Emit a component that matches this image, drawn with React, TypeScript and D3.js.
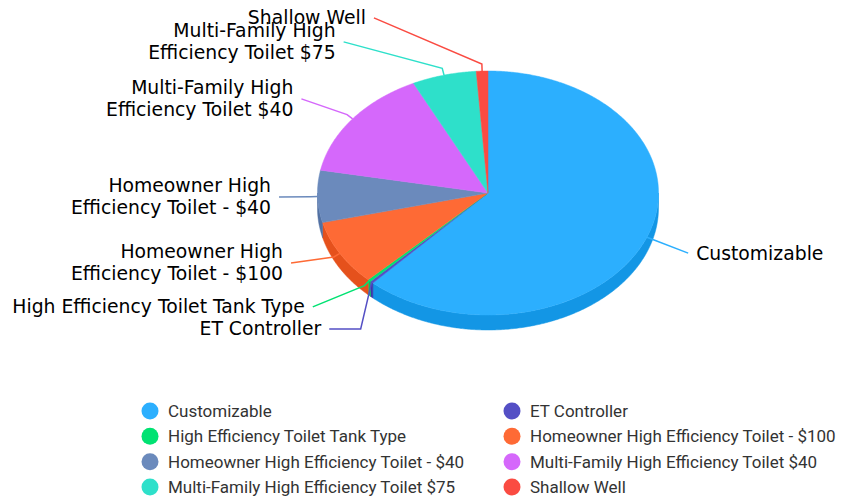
import React from "react";
import * as d3 from "d3";

// ---- data ----
const categories = [
  "Customizable",
  "ET Controller",
  "High Efficiency Toilet Tank Type",
  "Homeowner High Efficiency Toilet - $100",
  "Homeowner High Efficiency Toilet - $40",
  "Multi-Family High Efficiency Toilet $40",
  "Multi-Family High Efficiency Toilet $75",
  "Shallow Well",
];
const values = [618, 3, 3, 87, 69, 148, 61, 11];
const sliceLabels = [
  ["Customizable"],
  ["ET Controller"],
  ["High Efficiency Toilet Tank Type"],
  ["Homeowner High", "Efficiency Toilet - $100"],
  ["Homeowner High", "Efficiency Toilet - $40"],
  ["Multi-Family High", "Efficiency Toilet $40"],
  ["Multi-Family High", "Efficiency Toilet $75"],
  ["Shallow Well"],
];
const colors = [
  "#2caffe",
  "#544fc5",
  "#00e272",
  "#fe6a35",
  "#6b8abc",
  "#d568fb",
  "#2ee0ca",
  "#fa4b42",
];

// ---- layout ----
const W = 855;
const H = 502;
const CX = 488;
const CY = 193;
const RX = 170.5;
const RY = 122;
const DEPTH = 15;
const LABEL_CY = 195.5;
const LABEL_RY = 159;
const LABEL_CIRCLE = 209;
const LINE_H = 22;

function pt(a: number, rx = RX, ry = RY, dy = 0): [number, number] {
  return [CX + rx * Math.sin(a), CY - ry * Math.cos(a) + dy];
}

function arcPoints(a0: number, a1: number, dy = 0): [number, number][] {
  const n = Math.max(2, Math.ceil(((a1 - a0) * 180) / Math.PI) * 2);
  const pts: [number, number][] = [];
  for (let i = 0; i <= n; i++) pts.push(pt(a0 + ((a1 - a0) * i) / n, RX, RY, dy));
  return pts;
}

function sideColor(c: string) {
  const k = d3.rgb(c);
  return d3.rgb(Math.max(0, k.r - 25), Math.max(0, k.g - 25), Math.max(0, k.b - 25)).formatHex();
}

type L = {
  i: number;
  mid: number;
  side: number;
  ny: number;
  y: number;
  size: number;
  lines: number;
  x: number;
};

function distribute(items: L[]) {
  const groups = items.map((it) => ({ members: [it], size: it.size, pos: it.ny - it.size / 2 }));
  let changed = true;
  while (changed) {
    changed = false;
    for (let k = groups.length - 1; k > 0; k--) {
      const a = groups[k - 1];
      const b = groups[k];
      if (a.pos + a.size > b.pos) {
        const members = [...a.members, ...b.members];
        let off = 0;
        let sum = 0;
        members.forEach((m) => {
          sum += m.ny - off - m.size / 2;
          off += m.size;
        });
        groups.splice(k - 1, 2, { members, size: a.size + b.size, pos: sum / members.length });
        changed = true;
        break;
      }
    }
  }
  groups.forEach((g) => {
    let off = g.pos;
    g.members.forEach((m) => {
      m.y = off + m.size / 2;
      off += m.size;
    });
  });
}

export default function App() {
  const pie = d3.pie<number>().sort(null).startAngle(0).endAngle(Math.PI * 2);
  const arcs = pie(values);
  const line = d3.line();

  const walls = arcs
    .map((a, i) => {
      const s = Math.max(a.startAngle, Math.PI / 2);
      const e = Math.min(a.endAngle, (Math.PI * 3) / 2);
      if (e <= s) return null;
      const top = arcPoints(s, e);
      const bottom = arcPoints(s, e, DEPTH).reverse();
      const f = sideColor(colors[i]);
      return { d: line([...top, ...bottom]) + "Z", fill: f, key: i };
    })
    .filter(Boolean) as { d: string; fill: string; key: number }[];

  const tops = arcs.map((a, i) => ({
    d: line([[CX, CY], ...arcPoints(a.startAngle, a.endAngle)]) + "Z",
    fill: colors[i],
    key: i,
  }));

  // labels
  const labels: L[] = arcs.map((a, i) => {
    const mid = (a.startAngle + a.endAngle) / 2;
    const ny = LABEL_CY - LABEL_RY * Math.cos(mid);
    const lines = sliceLabels[i].length;
    return {
      i,
      mid,
      side: Math.sin(mid) >= 0 ? 1 : -1,
      ny,
      y: ny,
      lines,
      size: lines === 1 ? LINE_H : LINE_H * 3,
      x: 0,
    };
  });
  [1, -1].forEach((side) => {
    const grp = labels.filter((l) => l.side === side);
    const upper = grp.filter((l) => l.ny < LABEL_CY).sort((a, b) => b.ny - a.ny);
    const lower = grp.filter((l) => l.ny >= LABEL_CY).sort((a, b) => a.ny - b.ny);
    upper.forEach((l, k) => {
      if (k > 0) {
        const p = upper[k - 1];
        l.y = Math.min(l.ny, p.y - 8 * (p.lines + l.lines));
      }
    });
    distribute(lower);
  });
  labels.forEach((l) => {
    const dy = l.y - CY;
    const dx = Math.abs(dy) < LABEL_CIRCLE ? Math.sqrt(LABEL_CIRCLE ** 2 - dy * dy) : 0;
    l.x = CX + l.side * dx;
  });

  // legend
  const legendCols = [150, 512];
  const legendRow = d3.scalePoint<number>().domain([0, 1, 2, 3]).range([411, 487]);

  return (
    <svg
      width={W}
      height={H}
      style={{ position: "absolute", left: 0, top: 0, background: "#fff" }}
    >
      <g>
        {walls.map((w) => (
          <path key={"w" + w.key} d={w.d} fill={w.fill} stroke={w.fill} strokeWidth={0.5} />
        ))}
        {tops.map((t) => (
          <path key={"t" + t.key} d={t.d} fill={t.fill} stroke={t.fill} strokeWidth={0.5} />
        ))}
      </g>
      <g>
        {labels.map((l) => {
          const e = pt(l.mid);
          const b = pt(l.mid, RX + 7, RY + 7);
          const pushedDown = l.y - l.ny > 10;
          const pts: [number, number][] = pushedDown
            ? [[l.x, l.y], [e[0] - 11, l.y], e]
            : [[l.x, l.y], b, e];
          return (
            <polyline
              key={"k" + l.i}
              points={pts.map((p) => p.join(",")).join(" ")}
              fill="none"
              stroke={colors[l.i]}
              strokeWidth={1.5}
            />
          );
        })}
      </g>
      <g fontFamily="'DejaVu Sans', Verdana, sans-serif" fontSize={18.8} fill="#000">
        {labels.map((l) => {
          const lines = sliceLabels[l.i];
          const tx = l.x + l.side * 8;
          return lines.map((s, k) => (
            <text
              key={"l" + l.i + "_" + k}
              x={tx}
              y={l.y + (k - (lines.length - 1) / 2) * LINE_H}
              textAnchor={l.side > 0 ? "start" : "end"}
              dominantBaseline="central"
            >
              {s}
            </text>
          ));
        })}
      </g>
      <g fontFamily="Roboto, sans-serif" fontSize={17} fill="#333333">
        {categories.map((c, i) => {
          const x = legendCols[i % 2];
          const y = legendRow(Math.floor(i / 2))!;
          return (
            <g key={"lg" + i}>
              <circle cx={x} cy={y} r={8.5} fill={colors[i]} />
              <text x={x + 18} y={y} dominantBaseline="central">
                {c}
              </text>
            </g>
          );
        })}
      </g>
    </svg>
  );
}
